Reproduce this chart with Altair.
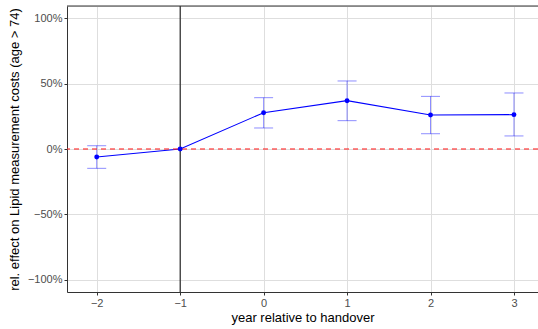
import altair as alt
import pandas as pd

years = [-2, -1, 0, 1, 2, 3]
est = [-0.061, 0.0, 0.278, 0.370, 0.260, 0.263]
lo = [-0.148, None, 0.161, 0.217, 0.117, 0.100]
hi = [0.025, None, 0.393, 0.521, 0.403, 0.429]

df = pd.DataFrame({"year": years, "est": est, "lo": lo, "hi": hi})
ci = df.dropna()

W, H = 471, 286
xs = alt.Scale(domain=[-2.356, 3.288], nice=False, zero=False)
ys = alt.Scale(domain=[-1.095, 1.095], nice=False, zero=False)

font = "Liberation Sans"

xaxis = alt.Axis(values=years, format="d", title="year relative to handover",
                 grid=True, gridColor="#dedede", gridWidth=1,
                 domainColor="#333333", tickColor="#333333", tickSize=3,
                 labelColor="#4d4d4d", labelFontSize=11, labelFont=font,
                 labelPadding=2, titleFont=font, titleFontSize=13,
                 titleFontWeight="normal", titleColor="black", titlePadding=3)
yaxis = alt.Axis(values=[-1, -0.5, 0, 0.5, 1], format=".0%",
                 title="rel. effect on Lipid measurement costs (age > 74)",
                 grid=True, gridColor="#dedede", gridWidth=1,
                 domainColor="#333333", tickColor="#333333", tickSize=3,
                 labelColor="#4d4d4d", labelFontSize=11, labelFont=font,
                 labelPadding=2, titleFont=font, titleFontSize=13,
                 titleFontWeight="normal", titleColor="black", titlePadding=6)

base = alt.Chart(df)

axes_layer = base.mark_point(opacity=0).encode(
    x=alt.X("year:Q", scale=xs, axis=xaxis),
    y=alt.Y("est:Q", scale=ys, axis=yaxis),
)

err = alt.Chart(ci).mark_rule(color="blue", opacity=0.45, strokeWidth=1).encode(
    x="year:Q", y="lo:Q", y2="hi:Q")
cap_lo = alt.Chart(ci).mark_tick(color="blue", opacity=0.45, orient="horizontal",
                                 size=19, thickness=1).encode(x="year:Q", y="lo:Q")
cap_hi = alt.Chart(ci).mark_tick(color="blue", opacity=0.45, orient="horizontal",
                                 size=19, thickness=1).encode(x="year:Q", y="hi:Q")

line = base.mark_line(color="blue", strokeWidth=1.1).encode(x="year:Q", y="est:Q")
pts = base.mark_circle(color="blue", size=24, opacity=1).encode(x="year:Q", y="est:Q")

ref = pd.DataFrame({"zero": [0], "handover": [-1]})
hline = alt.Chart(ref).mark_rule(color="#ff2a2a", opacity=0.75, strokeDash=[5, 4],
                                 strokeWidth=1.6).encode(y="zero:Q")
vline = alt.Chart(ref).mark_rule(color="black", strokeWidth=1).encode(x="handover:Q")

top = alt.Chart(ref).mark_rule(color="#333333", strokeWidth=1).encode(
    x=alt.value(0), x2=alt.value(W), y=alt.value(0))

chart = alt.layer(axes_layer, err, cap_lo, cap_hi, line, hline, vline, pts, top).properties(
    width=W, height=H,
    autosize=alt.AutoSizeParams(type="none"),
    padding={"left": 67, "top": 6, "right": 0, "bottom": 37},
).configure_view(stroke=None).configure(background="white")

chart.save("out.html", embed_options={"renderer": "svg", "actions": False})
